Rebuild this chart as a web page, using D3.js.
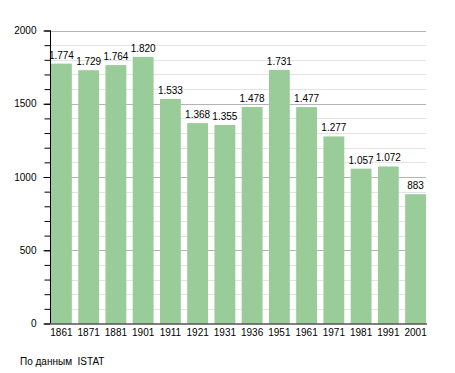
<!DOCTYPE html>
<html>
<head>
<meta charset="utf-8">
<script src="https://cdn.jsdelivr.net/npm/d3@7"></script>
<style>
  body { margin: 0; background: #fff; }
  svg text { font-family: "Liberation Sans", Arial, sans-serif; font-size: 10px; fill: #000; }
</style>
</head>
<body>
<div id="chart"></div>
<script>
// data
const years = ["1861", "1871", "1881", "1901", "1911", "1921", "1931", "1936", "1951", "1961", "1971", "1981", "1991", "2001"];
const population = [1774, 1729, 1764, 1820, 1533, 1368, 1355, 1478, 1731, 1477, 1277, 1057, 1072, 883];
const majorTicks = [0, 500, 1000, 1500, 2000];
const minorTicks = d3.range(0, 2001, 100);
const sourceNote = "По данным  ISTAT";

const width = 455, height = 373;
const margin = { top: 30.5, right: 29, bottom: 49.5, left: 51 };

const formatIt = d3.formatLocale({ decimal: ",", thousands: ".", grouping: [3], currency: ["", "€"] }).format(",d");

const svg = d3.select("#chart")
    .append("svg")
    .attr("width", width)
    .attr("height", height);

const xScale = d3.scaleBand()
    .domain(years)
    .range([margin.left, width - margin.right])
    .paddingInner(0.235)
    .paddingOuter(0);

const yScale = d3.scaleLinear()
    .domain([0, 2000])
    .range([height - margin.bottom, margin.top]);

// grid lines
svg.append("g")
    .attr("class", "grid-minor")
    .selectAll("line")
    .data(minorTicks.filter(d => d % 500 !== 0))
    .join("line")
    .attr("x1", margin.left)
    .attr("x2", width - margin.right)
    .attr("y1", d => Math.round(yScale(d)) + 0.5)
    .attr("y2", d => Math.round(yScale(d)) + 0.5)
    .attr("stroke", "#e4e4e4");

svg.append("g")
    .attr("class", "grid-major")
    .selectAll("line")
    .data(majorTicks.filter(d => d > 0))
    .join("line")
    .attr("x1", margin.left)
    .attr("x2", width - margin.right)
    .attr("y1", d => Math.round(yScale(d)) + 0.5)
    .attr("y2", d => Math.round(yScale(d)) + 0.5)
    .attr("stroke", "#b4b4b4");

// bars
svg.append("g")
    .selectAll("rect")
    .data(population)
    .join("rect")
    .attr("x", (d, i) => xScale(years[i]))
    .attr("y", d => yScale(d))
    .attr("width", xScale.bandwidth())
    .attr("height", d => yScale(0) - yScale(d))
    .attr("fill", "#99cc99");

// value labels
svg.append("g")
    .selectAll("text")
    .data(population)
    .join("text")
    .attr("x", (d, i) => xScale(years[i]) + xScale.bandwidth() / 2)
    .attr("y", d => yScale(d) - 5)
    .attr("text-anchor", "middle")
    .text(d => formatIt(d));

// y axis with major and minor ticks
const yAxis = svg.append("g")
    .attr("transform", `translate(${margin.left - 0.5},0)`);

yAxis.call(d3.axisLeft(yScale).tickValues(minorTicks).tickSize(6).tickFormat(""))
    .call(g => g.select(".domain").remove())
    .call(g => g.selectAll("line").attr("stroke", "#000"));

yAxis.append("g")
    .call(d3.axisLeft(yScale).tickValues(majorTicks).tickSize(7).tickPadding(7).tickFormat(d3.format("d")))
    .call(g => g.select(".domain").remove())
    .call(g => g.selectAll("line").attr("stroke", "#000"))
    .call(g => g.selectAll("text").style("font-size", "10px").style("font-family", "\"Liberation Sans\", Arial, sans-serif"));

yAxis.append("line")
    .attr("y1", yScale(2000))
    .attr("y2", yScale(0))
    .attr("stroke", "#000");

// x axis
svg.append("g")
    .attr("transform", `translate(0,${yScale(0)})`)
    .call(d3.axisBottom(xScale).tickSize(0).tickPadding(5))
    .call(g => g.select(".domain").attr("d", `M${margin.left},0.5H${width - margin.right + 1}`).attr("stroke", "#000"))
    .call(g => g.selectAll("text").style("font-size", "10px").style("font-family", "\"Liberation Sans\", Arial, sans-serif"));

// source note
svg.append("text")
    .attr("x", 20)
    .attr("y", 365)
    .style("font-size", "10px")
    .style("white-space", "pre")
    .text(sourceNote);
</script>
</body>
</html>
